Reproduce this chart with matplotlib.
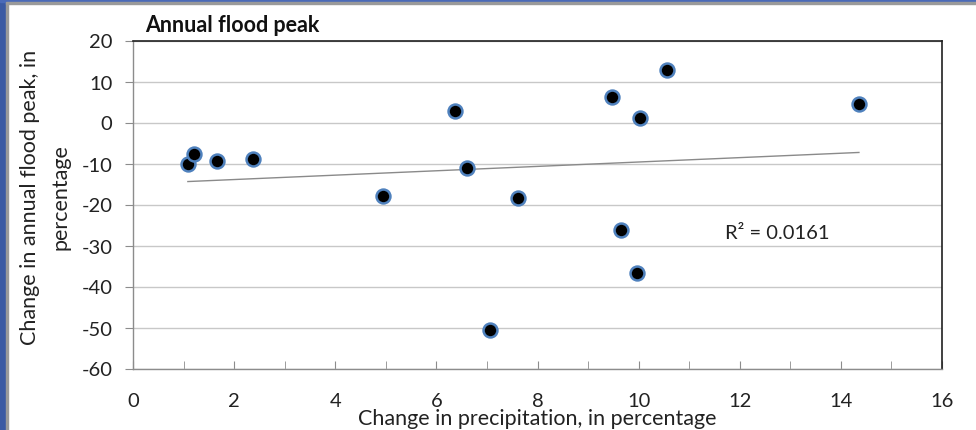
import numpy as np
import matplotlib.pyplot as plt
from matplotlib.patches import Rectangle

plt.rcParams["font.family"] = ["Lato", "DejaVu Sans"]
plt.rcParams["axes.unicode_minus"] = False

# change in precipitation (%) vs change in annual flood peak (%)
precip_change = [1.08, 1.20, 1.65, 2.36, 4.94, 6.36, 6.60, 7.05, 7.62,
                 9.48, 9.66, 9.97, 10.03, 10.57, 14.36]
peak_change = [-10.2, -7.6, -9.5, -8.8, -18.0, 2.7, -11.2, -50.7, -18.3,
               6.3, -26.3, -36.6, 1.0, 12.9, 4.6]
r2_label = "R² = 0.0161"

x = np.array(precip_change)
y = np.array(peak_change)
slope, intercept = np.polyfit(x, y, 1)
xfit = np.array([x.min(), x.max()])

fig = plt.figure(figsize=(9.76, 4.31), dpi=100)
# slide frame strips along the left and top edges
fig.patches.append(Rectangle((0, 0), 6 / 976, 1, transform=fig.transFigure,
                             color="#3B5AA3", zorder=0))
fig.patches.append(Rectangle((6 / 976, 0), 2 / 976, 1, transform=fig.transFigure,
                             color="#9A9A9A", zorder=0))
fig.patches.append(Rectangle((0, 1 - 3 / 431), 1, 3 / 431, transform=fig.transFigure,
                             color="#4A6AB8", zorder=0))
fig.patches.append(Rectangle((6 / 976, 1 - 5 / 431), 1, 2 / 431, transform=fig.transFigure,
                             color="#9A9A9A", zorder=0))

ax = fig.add_axes([133.3 / 976, 1 - 369.5 / 431, 808.5 / 976, 328 / 431])
ax.set_xlim(0, 16)
ax.set_ylim(-60, 20)
ax.set_yticks(np.arange(-60, 21, 10))
ax.set_xticks(np.arange(0, 17, 2))
ax.set_xticks(np.arange(0, 17, 1), minor=True)
ax.grid(axis="y", color="#C8C8C8", lw=1.0)
ax.set_axisbelow(True)

for side in ("top", "right"):
    ax.spines[side].set_color("#202020")
    ax.spines[side].set_linewidth(1.2)
for side in ("left", "bottom"):
    ax.spines[side].set_color("#8C8C8C")
    ax.spines[side].set_linewidth(1.0)

ax.tick_params(axis="y", direction="out", length=6, color="#8C8C8C",
               labelsize=14.5, pad=9, labelcolor="#222222")
ax.tick_params(axis="x", which="both", direction="in", length=6, color="#8C8C8C",
               labelsize=14.5, pad=17, labelcolor="#222222")

ax.plot(xfit, slope * xfit + intercept, color="#8A8A8A", lw=1.0, zorder=2)
ax.scatter(x, y, s=100, c="black", edgecolors="#4F81BD", linewidths=1.8, zorder=3)

ax.text(11.7, -26.8, r2_label, fontsize=14.5, color="#222222", va="center", ha="left")

fig.text(145 / 976, 1 - 26 / 431, "Annual flood peak", fontsize=15.5, fontweight="bold",
         va="center", ha="left", color="#111111")
fig.text(537 / 976, 1 - 419 / 431, "Change in precipitation, in percentage",
         fontsize=15.5, ha="center", va="center", color="#222222")
fig.text(30 / 976, 1 - 197 / 431, "Change in annual flood peak, in", rotation=90,
         fontsize=15.5, ha="center", va="center", color="#222222")
fig.text(61 / 976, 1 - 197 / 431, "percentage", rotation=90,
         fontsize=15.5, ha="center", va="center", color="#222222")

fig.savefig("out.png", dpi=100)
